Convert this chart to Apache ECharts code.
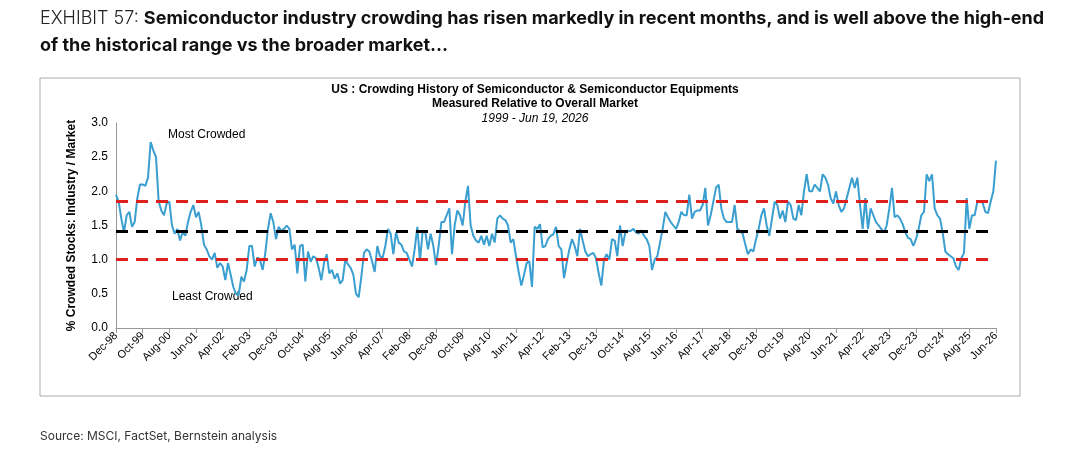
<!DOCTYPE html>
<html><head><meta charset="utf-8">
<script src="https://cdn.jsdelivr.net/npm/echarts@6/dist/echarts.min.js"></script>
<style>html,body{margin:0;padding:0;background:#fff}#c{width:1080px;height:459px}</style>
</head><body><div id="c"></div>
<script>
const values = [
1.95,1.85,1.6,1.4,1.65,1.7,1.48,1.55,1.9,2.1,2.1,
2.08,2.2,2.72,2.6,2.5,1.85,1.72,1.65,1.82,1.85,
1.5,1.38,1.45,1.28,1.4,1.35,1.55,1.7,1.8,1.62,
1.7,1.5,1.22,1.15,1.05,1.0,1.1,0.88,0.95,0.9,
0.7,0.95,0.78,0.6,0.5,0.48,0.75,0.68,0.85,1.2,
1.2,0.9,1.03,1.0,0.85,1.1,1.45,1.68,1.55,1.3,
1.48,1.42,1.45,1.5,1.45,1.15,1.22,0.8,1.2,1.22,
0.68,1.12,0.97,1.05,1.02,0.88,0.7,0.95,1.08,0.8,
0.85,0.72,0.8,0.65,0.7,1.0,0.93,0.88,0.78,0.5,
0.45,0.75,1.1,1.15,1.12,0.98,0.82,1.2,1.05,1.03,
1.2,1.45,1.38,1.08,1.4,1.25,1.22,1.12,1.1,1.0,
0.9,1.15,1.48,0.98,1.42,1.4,1.15,1.38,1.2,0.92,
1.2,1.55,1.55,1.65,1.75,1.08,1.5,1.72,1.65,1.5,
1.85,2.08,1.5,1.35,1.28,1.25,1.35,1.22,1.35,1.2,
1.38,1.25,1.6,1.65,1.6,1.58,1.5,1.25,1.3,1.05,
0.82,0.62,0.78,0.95,0.98,0.6,1.48,1.45,1.52,1.18,
1.2,1.3,1.35,1.37,1.48,1.2,1.15,0.73,0.95,1.15,
1.3,1.2,1.05,1.45,1.28,1.12,1.05,1.08,1.1,1.02,
0.8,0.62,1.0,1.08,1.0,1.3,1.28,1.05,1.5,1.2,
1.4,1.42,1.42,1.45,1.4,1.38,1.43,1.35,1.3,1.2,
0.85,1.0,1.05,1.25,1.45,1.7,1.62,1.55,1.5,1.45,
1.55,1.7,1.65,1.65,1.95,1.6,1.7,1.72,1.72,1.8,
2.05,1.5,1.65,1.85,2.05,2.1,1.75,1.6,1.55,1.55,
1.55,1.8,1.45,1.42,1.38,1.22,1.08,1.15,1.12,1.3,
1.45,1.65,1.75,1.5,1.35,1.6,1.85,1.8,1.6,1.72,
1.55,1.85,1.8,1.6,1.58,1.8,1.65,2.0,2.25,2.0,
2.0,2.1,2.05,2.0,2.25,2.2,2.1,1.9,1.82,2.0,
1.8,1.7,1.75,1.9,2.05,2.2,2.05,2.2,1.8,1.45,
1.9,1.45,1.75,1.65,1.55,1.5,1.45,1.4,1.5,1.75,
2.05,1.62,1.65,1.6,1.52,1.4,1.32,1.3,1.2,1.3,
1.45,1.65,1.7,2.25,2.15,2.25,1.75,1.65,1.6,1.4,
1.12,1.08,1.05,1.02,0.9,0.85,1.02,1.1,1.9,1.45,
1.65,1.65,1.85,1.85,1.83,1.7,1.68,1.85,2.0,2.45
];
const highLine = 1.85, avgLine = 1.42, lowLine = 1.0;
const monthNames = ['Jan','Feb','Mar','Apr','May','Jun','Jul','Aug','Sep','Oct','Nov','Dec'];
const categories = values.map((v,i)=>{const t=11+i;const y=1998+Math.floor(t/12);return monthNames[t%12]+'-'+String(y%100).padStart(2,'0');});
const chart = echarts.init(document.getElementById('c'));
const ff = 'Arial, "Liberation Sans", sans-serif';
chart.setOption({
  animation:false,
  graphic:[
    {type:'text',left:40,top:10,style:{text:'{l|EXHIBIT 57: }{b|Semiconductor industry crowding has risen markedly in recent months, and is well above the high-end}',rich:{l:{fontSize:18,fontFamily:'Inter, sans-serif',fontWeight:300,fill:'#222'},b:{fontSize:18,fontFamily:'Inter, sans-serif',fontWeight:'bold',fill:'#111'}}}},
    {type:'text',left:40,top:37,style:{text:'of the historical range vs the broader market…',fontSize:18,fontFamily:'Inter, sans-serif',fontWeight:'bold',fill:'#111'}},
    {type:'rect',shape:{x:40,y:78,width:980,height:318},style:{fill:'none',stroke:'#aaa',lineWidth:1}},
    {type:'text',x:535,y:84,style:{text:'US : Crowding History of Semiconductor & Semiconductor Equipments',align:'center',fontSize:12,fontWeight:'bold',fontFamily:ff,fill:'#000'}},
    {type:'text',x:535,y:98,style:{text:'Measured Relative to Overall Market',align:'center',fontSize:12,fontWeight:'bold',fontFamily:ff,fill:'#000'}},
    {type:'text',x:535,y:113,style:{text:'1999 - Jun 19, 2026',align:'center',fontSize:12,fontStyle:'italic',fontFamily:ff,fill:'#000'}},
    {type:'text',x:168,y:129,style:{text:'Most Crowded',fontSize:12,fontFamily:ff,fill:'#000'}},
    {type:'text',x:172,y:291,style:{text:'Least Crowded',fontSize:12,fontFamily:ff,fill:'#000'}},
    {type:'text',left:40,top:430,style:{text:'Source: MSCI, FactSet, Bernstein analysis',fontSize:12,fontFamily:'Inter, sans-serif',fill:'#333'}}
  ],
  grid:{left:116,right:84,top:123,bottom:131},
  xAxis:{type:'category',data:categories,boundaryGap:false,
    axisLine:{lineStyle:{color:'#999'}},axisTick:{interval:9,alignWithLabel:true,lineStyle:{color:'#999'}},
    axisLabel:{interval:9,rotate:45,fontSize:11,fontFamily:ff,color:'#000',margin:6}},
  yAxis:{type:'value',min:0,max:3,interval:0.5,
    name:'% Crowded Stocks: Industry / Market',nameLocation:'middle',nameGap:38,
    nameTextStyle:{fontSize:12,fontWeight:'bold',fontFamily:ff,color:'#000'},
    axisLine:{show:true,lineStyle:{color:'#999'}},splitLine:{show:false},
    axisLabel:{formatter:v=>v.toFixed(1),fontSize:12,fontFamily:ff,color:'#000'}},
  series:[{type:'line',data:values,showSymbol:false,lineStyle:{color:'#3a9fd0',width:2},
    markLine:{silent:true,symbol:'none',label:{show:false},
      data:[
        {yAxis:highLine,lineStyle:{color:'#e0201c',type:[12,8],width:3}},
        {yAxis:lowLine,lineStyle:{color:'#e0201c',type:[12,8],width:3}},
        {yAxis:avgLine,lineStyle:{color:'#000',type:[12,8],width:3}}
      ]}}]
});
</script></body></html>
